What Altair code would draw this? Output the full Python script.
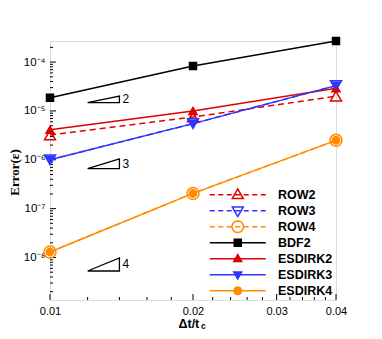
import math
import altair as alt
import pandas as pd

# ---- data ----
dt = [0.01, 0.02, 0.04]
series_names = ["ROW2", "ROW3", "ROW4", "BDF2", "ESDIRK2", "ESDIRK3", "ESDIRK4"]
row2 = [3.2e-6, 7.5e-6, 2.0e-5]
row3 = [1.0e-6, 5.5e-6, 3.3e-5]
row4 = [1.3e-8, 2.05e-7, 2.5e-6]
bdf2 = [1.87e-5, 8.3e-5, 2.7e-4]
esdirk2 = [4.1e-6, 1.0e-5, 2.9e-5]
esdirk3 = [1.0e-6, 5.5e-6, 3.3e-5]
esdirk4 = [1.3e-8, 2.05e-7, 2.5e-6]
series_values = [row2, row3, row4, bdf2, esdirk2, esdirk3, esdirk4]

# slope triangles: (order label, x left, x right, y bottom, y top)
tri_orders = ["2", "3", "4"]
tri_x1 = [0.012, 0.012, 0.012]
tri_x2 = [0.014, 0.014, 0.014]
tri_yb = [1.48e-5, 6.6e-7, 5.3e-9]
tri_yt = [2.01e-5, 1.05e-6, 9.8e-9]

x_ticks = [0.01, 0.02, 0.03, 0.04]
x_minor = [0.012, 0.014, 0.016, 0.018, 0.022, 0.024, 0.026, 0.028,
           0.032, 0.034, 0.036, 0.038]
y_ticks = [1e-8, 1e-7, 1e-6, 1e-5, 1e-4]
y_minor = [m * 10.0 ** e for e in range(-9, -3) for m in range(2, 10)
           if 1.35e-9 <= m * 10.0 ** e <= 2.7e-4]

# ---- styles ----
colors = ["#e00000", "#3333ff", "#ff8c00", "#000000", "#e00000", "#3333ff", "#ff8c00"]
dashed = [True, True, True, False, False, False, False]
shapes = ["triangle-up", "triangle-down", "circle", "square", "triangle-up", "triangle-down", "circle"]
sizes = [121, 121, 144, 49, 64, 64, 56]
filled = [False, False, False, True, True, True, True]

W, H = 286, 259
FONT = "Liberation Sans"

xs = alt.Scale(type="log", domain=[0.01, 0.04], nice=False)
ys = alt.Scale(type="log", domain=[1.35e-9, 2.7e-4], nice=False)

xaxis = alt.Axis(values=x_ticks, format=".2f", ticks=False, domain=False, grid=False,
                 labelFont=FONT, labelFontSize=11, labelColor="black", labelPadding=5,
                 labelFlush=False, labelOverlap=False,
                 title="\u0394t/t", titleFont=FONT, titleFontSize=12.5, titleFontWeight="bold",
                 titleColor="black", titleX=128, titleY=23, titleAlign="left",
                 titleBaseline="middle")
sup = "\u2070\u00b9\u00b2\u00b3\u2074\u2075\u2076\u2077\u2078\u2079"
yaxis = alt.Axis(values=y_ticks, ticks=False, domain=False, grid=False,
                 labelExpr="'10\u207b' + substring('" + sup + "', round(-log(datum.value)/LN10), round(-log(datum.value)/LN10)+1)",
                 labelFont=FONT, labelFontSize=11.5, labelColor="black", labelPadding=5,
                 labelFlush=False, labelOverlap=False,
                 title="Error(\u03b5)", titleFont="Liberation Serif", titleFontSize=13,
                 titleFontWeight="bold", titleColor="black", titleX=-36, titleY=131,
                 titleBaseline="middle", titleAngle=270)

X = alt.X("x:Q", scale=xs, axis=xaxis)
Y = alt.Y("y:Q", scale=ys, axis=yaxis)

rows = []
for name, vals in zip(series_names, series_values):
    for xv, yv in zip(dt, vals):
        rows.append({"series": name, "x": xv, "y": yv})
df = pd.DataFrame(rows)

layers = []
# axis ticks (inward)
layers.append(alt.Chart(pd.DataFrame({"y": y_ticks})).mark_rule(color="black", strokeWidth=1)
              .encode(y=Y, x=alt.value(0), x2=alt.value(6)))
layers.append(alt.Chart(pd.DataFrame({"y": y_minor})).mark_rule(color="black", strokeWidth=1)
              .encode(y=Y, x=alt.value(0), x2=alt.value(3)))
layers.append(alt.Chart(pd.DataFrame({"x": x_ticks})).mark_rule(color="black", strokeWidth=1)
              .encode(x=X, y=alt.value(H), y2=alt.value(H - 6)))
layers.append(alt.Chart(pd.DataFrame({"x": x_minor})).mark_rule(color="black", strokeWidth=1)
              .encode(x=X, y=alt.value(H), y2=alt.value(H - 3)))

# slope triangles
tri_rows = []
tri_lab = []
for o, x1, x2, yb, yt in zip(tri_orders, tri_x1, tri_x2, tri_yb, tri_yt):
    for k, (xv, yv) in enumerate([(x1, yb), (x2, yb), (x2, yt), (x1, yb)]):
        tri_rows.append({"tri": o, "k": k, "x": xv, "y": yv})
    tri_lab.append({"t": o, "x": x2, "y": (yb * yt) ** 0.5})
layers.append(alt.Chart(pd.DataFrame(tri_rows)).mark_line(color="black", strokeWidth=1.3)
              .encode(x=X, y=Y, detail="tri:N", order="k:Q"))
layers.append(alt.Chart(pd.DataFrame(tri_lab)).mark_text(align="left", baseline="middle", dx=3,
                                                         font=FONT, fontSize=12, color="black")
              .encode(x=X, y=Y, text="t:N"))

# series lines
for name, c, d in zip(series_names, colors, dashed):
    kw = dict(color=c, strokeWidth=1.5)
    if d:
        kw["strokeDash"] = [6, 4]
    layers.append(alt.Chart(df[df.series == name]).mark_line(**kw).encode(x=X, y=Y))
# series markers
for name, c, s, sz, f in zip(series_names, colors, shapes, sizes, filled):
    layers.append(alt.Chart(df[df.series == name]).mark_point(
        shape=s, size=sz, filled=f, color=c, opacity=1, strokeWidth=1.5,
        fill=c if f else "transparent", stroke=c).encode(x=X, y=Y))

# legend symbols: line + marker as custom paths (1 unit = 5px at size 100)
def dash_path():
    segs = [(-0.5, 0.5)]
    a = 0.5
    for _ in range(3):
        segs.append((a + 0.7, a + 1.7))
        segs.append((-(a + 1.7), -(a + 0.7)))
        a += 1.7
    return " ".join(f"M{p:.2f},0 L{q:.2f},0" for p, q in sorted(segs))

solid = "M-5.6,0 L5.6,0"
def tri_up(r):
    return f"M0,{-1.05*r:.2f} L{r:.2f},{0.7*r:.2f} L{-r:.2f},{0.7*r:.2f} Z"
def tri_down(r):
    return f"M0,{1.05*r:.2f} L{r:.2f},{-0.7*r:.2f} L{-r:.2f},{-0.7*r:.2f} Z"
def circ(r, n=24):
    pts = [(r * math.cos(2 * math.pi * i / n), r * math.sin(2 * math.pi * i / n)) for i in range(n)]
    return "M" + " L".join(f"{px:.3f},{py:.3f}" for px, py in pts) + " Z"
def sq(r):
    return f"M{-r},{-r} L{r},{-r} L{r},{r} L{-r},{r} Z"

legend_paths = [
    dash_path() + " " + tri_up(1.1),
    dash_path() + " " + tri_down(1.1),
    dash_path() + " " + circ(1.15),
    solid + " " + sq(0.7),
    solid + " " + tri_up(0.8),
    solid + " " + tri_down(0.8),
    solid + " " + circ(0.75),
]
legend_fills = [("transparent" if not f else c) for c, f in zip(colors, filled)]

leg = alt.Legend(title=None, orient="none", legendX=181.5, legendY=147.5,
                 labelFont=FONT, labelFontSize=12.5, labelFontWeight="bold",
                 labelColor="black", symbolSize=100, symbolStrokeWidth=1.5,
                 symbolOpacity=1, labelOffset=34, rowPadding=-3.5, padding=0,
                 gridAlign="all")
layers.append(alt.Chart(df).mark_point(size=100, strokeWidth=1.5).encode(
    x=X, y=Y,
    opacity=alt.value(0),
    stroke=alt.Stroke("series:N", scale=alt.Scale(domain=series_names, range=colors), legend=leg),
    fill=alt.Fill("series:N", scale=alt.Scale(domain=series_names, range=legend_fills), legend=leg),
    shape=alt.Shape("series:N", scale=alt.Scale(domain=series_names, range=legend_paths), legend=leg),
))

# subscript c of the x title
layers.append(alt.Chart(pd.DataFrame({"t": ["c"]})).mark_text(
    align="left", baseline="middle", font=FONT, fontSize=8.5, fontWeight="bold", color="black")
    .encode(x=alt.value(151), y=alt.value(285), text="t:N"))

chart = alt.layer(*layers).properties(
    width=W, height=H, autosize="none",
    padding={"left": 42, "top": 33, "right": 30, "bottom": 31},
).configure_view(stroke="black", strokeWidth=2).configure(background="white")

chart.save("out.html", embed_options={"renderer": "svg", "actions": False})
